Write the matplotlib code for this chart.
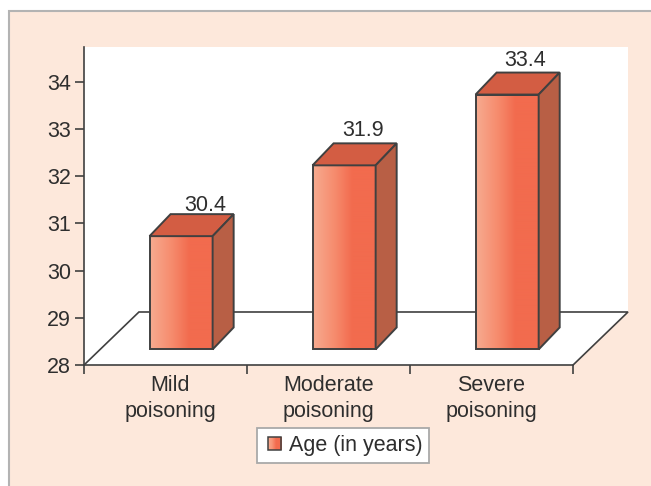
import matplotlib
matplotlib.use("Agg")
import matplotlib.pyplot as plt
from matplotlib.colors import LinearSegmentedColormap
from matplotlib.legend_handler import HandlerBase
from matplotlib.patches import Patch, Polygon, Rectangle
import numpy as np

plt.rcParams['font.family'] = ['Liberation Sans', 'DejaVu Sans']

categories = ["Mild\npoisoning", "Moderate\npoisoning", "Severe\npoisoning"]
ages = [30.4, 31.9, 33.4]
y_ticks = [28, 29, 30, 31, 32, 33, 34]
legend_label = "Age (in years)"

W, H = 651, 486
peach = "#fde8db"
edge = "#404040"
text_col = "#2e2e2e"
top_col = "#d35d43"
side_col = "#b85f45"
grad = LinearSegmentedColormap.from_list(
    "bar", [(0, "#f7ab90"), (0.35, "#f68a6c"), (0.62, "#f26b4e"), (1, "#f26b4e")])

fig = plt.figure(figsize=(W / 100, H / 100), dpi=100, facecolor="white")
fig.patches.append(Rectangle((9 / W, -0.01), 1, 1 - 11 / H + 0.01, transform=fig.transFigure,
                             facecolor=peach, edgecolor="#b3b3b3", linewidth=1.5, figure=fig,
                             zorder=-1))

ax = fig.add_axes([84 / W, (H - 365) / H, 544 / W, 318 / H])
ax.patch.set_visible(False)

# depth of the floor and of the bars, in data units
floor_dx, floor_dy = 0.337, 1.123
bar_dx, bar_dy = 0.129, 0.466
bar_w = 0.387
bar_off = 0.402
lift = 0.33
y_top = 28 + 318 / 47.2
x_right = 3 + floor_dx
# the value labels do not sit the same way on each bar
nudge = [(2.5, -1.5), (-1.2, 1.6), (-2, 1.0)]

ax.add_patch(Polygon([(0, 28), (0, y_top), (x_right, y_top), (x_right, 28 + floor_dy), (3, 28)],
                     facecolor="white", edgecolor="none", zorder=0))
ax.plot([0, floor_dx, x_right, 3], [28, 28 + floor_dy, 28 + floor_dy, 28],
        color=edge, lw=1.2, zorder=1, clip_on=False, solid_joinstyle="miter")

gradient = np.linspace(0, 1, 128).reshape(1, -1)
for i, age in enumerate(ages):
    x0 = i + bar_off
    x1 = x0 + bar_w
    y0 = 28 + lift
    y1 = age + lift
    ax.imshow(gradient, cmap=grad, extent=(x0, x1, y0, y1), aspect="auto",
              interpolation="bilinear", zorder=2)
    ax.add_patch(Rectangle((x0, y0), bar_w, y1 - y0, facecolor="none", edgecolor=edge, lw=1.4, zorder=3))
    ax.add_patch(Polygon([(x0, y1), (x1, y1), (x1 + bar_dx, y1 + bar_dy), (x0 + bar_dx, y1 + bar_dy)],
                         facecolor=top_col, edgecolor=edge, lw=1.4, zorder=3))
    ax.add_patch(Polygon([(x1, y0), (x1 + bar_dx, y0 + bar_dy), (x1 + bar_dx, y1 + bar_dy), (x1, y1)],
                         facecolor=side_col, edgecolor=edge, lw=1.4, zorder=3))
    ax.annotate(f"{age}", (x0 + bar_w / 2 + bar_dx, y1 + bar_dy), xytext=nudge[i],
                textcoords="offset points", ha="center", va="bottom", fontsize=15.5,
                color=text_col, zorder=4, annotation_clip=False)

ax.set_xlim(0, x_right)
ax.set_ylim(28, y_top)
for s in ("top", "right"):
    ax.spines[s].set_visible(False)
for s in ("left", "bottom"):
    ax.spines[s].set_color(edge)
    ax.spines[s].set_linewidth(1.2)
ax.spines["bottom"].set_bounds(0, 3)

ax.set_yticks(y_ticks)
ax.set_xticks([0, 1, 2, 3])
ax.set_xticklabels([])
ax.set_xticks([0.53, 1.5, 2.5], labels=categories, minor=True)
ax.tick_params(axis="both", which="major", length=6.5, width=1.2, color=edge)
ax.tick_params(axis="x", which="minor", length=0, pad=7)
ax.tick_params(axis="y", pad=3, labelsize=15.5, labelcolor=text_col)
ax.tick_params(axis="x", which="minor", labelsize=15.5, labelcolor=text_col)
for lab in ax.get_xticklabels(minor=True):
    lab.set_linespacing(1.3)


class GradHandler(HandlerBase):
    def create_artists(self, legend, orig, xd, yd, w, h, fontsize, trans):
        n = 24
        # swatch fills the right part of the handle box, the rest is padding
        sx = -xd + w * 0.25
        sw = w * 0.75
        arts = [Rectangle((sx + sw * k / n, -yd), sw / n + 0.2, h, facecolor=grad(k / (n - 1)),
                          edgecolor="none", transform=trans) for k in range(n)]
        arts.append(Rectangle((sx, -yd), sw, h, facecolor="none", edgecolor=edge, lw=1.1, transform=trans))
        return arts


handle = Patch(label=legend_label)
leg = fig.legend(handles=[handle], handler_map={Patch: GradHandler()}, loc="center",
                 bbox_to_anchor=(343 / W, (H - 445.5) / H), fontsize=15.5, frameon=True, fancybox=False,
                 framealpha=1, facecolor="white", edgecolor="#a9a9a9", labelcolor=text_col,
                 handlelength=0.82, handleheight=0.6, handletextpad=0.33, borderpad=0.33,
                 borderaxespad=0)
leg.get_frame().set_linewidth(1.3)

fig.savefig("out.png", dpi=100, facecolor=fig.get_facecolor())
